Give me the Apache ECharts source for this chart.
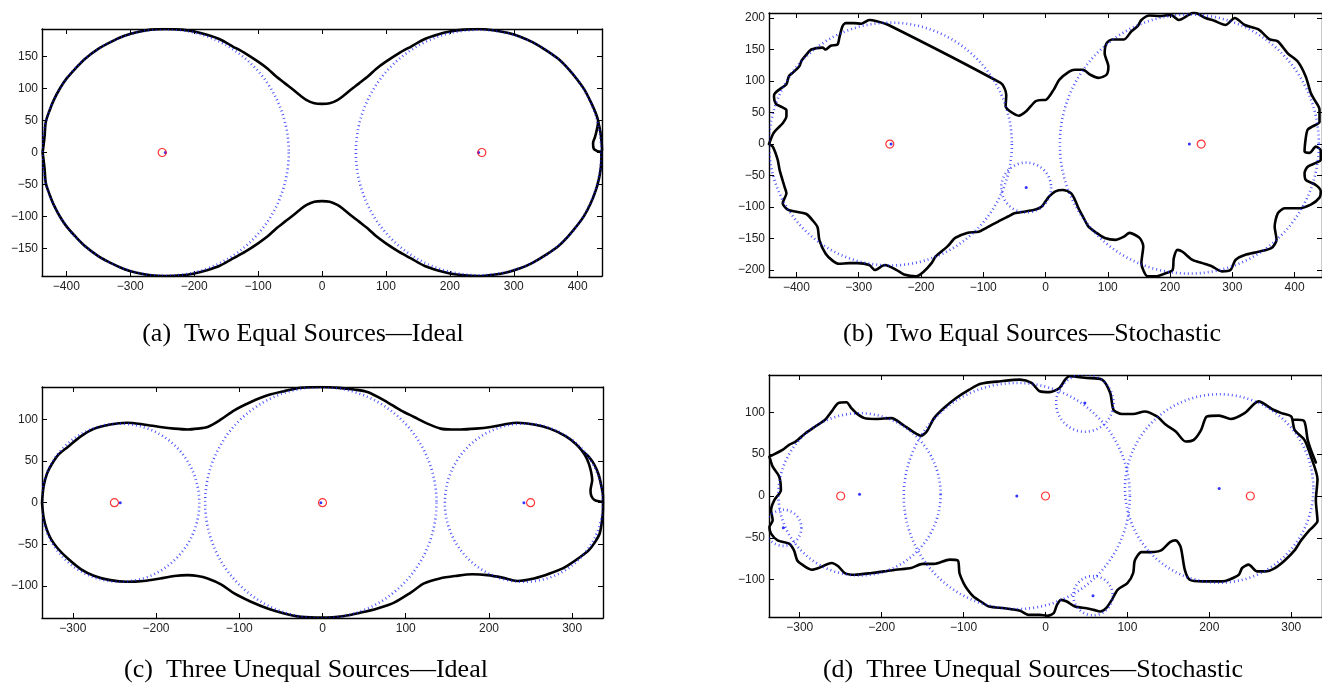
<!DOCTYPE html>
<html>
<head>
<meta charset="utf-8">
<script src="https://cdn.jsdelivr.net/npm/echarts@6/dist/echarts.min.js"></script>
<style>html,body{margin:0;padding:0;background:#fff}#c{width:1322px;height:684px}</style>
</head>
<body>
<div id="c"></div>
<script>
// ---------- tick labels ----------
const aTicksX = [-400,-300,-200,-100,0,100,200,300,400];
const aTicksY = [-150,-100,-50,0,50,100,150];
const bTicksX = [-400,-300,-200,-100,0,100,200,300,400];
const bTicksY = [-200,-150,-100,-50,0,50,100,150,200];
const cTicksX = [-300,-200,-100,0,100,200,300];
const cTicksY = [-100,-50,0,50,100];
const dTicksX = [-300,-200,-100,0,100,200,300];
const dTicksY = [-100,-50,0,50,100];

// ---------- captions ----------
const captions = [
  '(a)  Two Equal Sources\u2014Ideal',
  '(b)  Two Equal Sources\u2014Stochastic',
  '(c)  Three Unequal Sources\u2014Ideal',
  '(d)  Three Unequal Sources\u2014Stochastic'
];

// ---------- (a) ----------
const aSources = [[-250,0],[250,0]];
const aCenters = [[-245,0],[245,0]];
const aCircles = [[-245,0,193],[245,0,192]];
const aContour = [[-437,0],[-434,25],[-432,48],[-426,66],[-420,81],[-410,100],[-400,115],[-385,132],[-370,147],[-350,162],[-330,173],[-310,182],[-290,188],[-268,192],[-245,193],[-220,192],[-200,189],[-180,184],[-160,177],[-140,166],[-120,155],[-100,142],[-85,131],[-72,119],[-58,108],[-45,98],[-34,89],[-24,82],[-12,77],[0,76],[12,77],[24,82],[34,89],[45,98],[58,108],[72,119],[85,131],[100,142],[120,155],[140,166],[160,177],[180,184],[200,189],[222,192],[245,193],[268,191],[290,187],[310,181],[330,172],[350,160],[370,146],[385,131],[400,113],[410,99],[420,80],[428,62],[432,48],[430,36],[427,24],[424,15],[425,6],[431,2],[437,0],[437,-10],[436,-25],[433,-42],[428,-60],[420,-80],[410,-99],[400,-113],[385,-131],[370,-146],[350,-160],[330,-172],[310,-181],[290,-187],[268,-191],[245,-193],[222,-192],[200,-189],[180,-184],[160,-177],[140,-166],[120,-155],[100,-142],[85,-131],[72,-119],[58,-108],[45,-98],[34,-89],[24,-82],[12,-77],[0,-76],[-12,-77],[-24,-82],[-34,-89],[-45,-98],[-58,-108],[-72,-119],[-85,-131],[-100,-142],[-120,-155],[-140,-166],[-160,-177],[-180,-184],[-200,-189],[-220,-192],[-245,-193],[-268,-192],[-290,-188],[-310,-182],[-330,-173],[-350,-162],[-370,-147],[-385,-132],[-400,-115],[-410,-100],[-420,-81],[-426,-66],[-432,-48],[-434,-25],[-437,0]];
const aContourOuter = [[432,48],[435,35],[437,20],[438,5],[437,0]];

// ---------- (b) ----------
const bSources = [[-250,0],[250,0]];
const bCenters = [[-248,0],[231,0],[-31,-69]];
const bCircles = [[-249,0,195],[231,0,208],[-31,-69,40]];
const bContour = [[-444,0],[-437,17],[-430,25],[-422,33],[-416,44],[-416,54],[-424,59],[-433,64],[-436,75],[-435,80],[-427,87],[-416,95],[-412,108],[-406,113],[-395,124],[-392,132],[-384,142],[-376,150],[-358,153],[-353,150],[-345,156],[-334,158],[-331,169],[-326,187],[-321,192],[-308,192],[-296,191],[-283,197],[-271,195],[-252,189],[-72,97],[-66,89],[-63,78],[-64,60],[-57,52],[-43,45],[-31,52],[-16,68],[-6,70],[0,70],[13,86],[22,102],[38,115],[47,118],[60,118],[72,110],[85,105],[98,110],[101,123],[95,144],[98,160],[107,166],[126,166],[138,179],[148,187],[154,197],[167,204],[183,203],[201,205],[214,197],[230,205],[238,209],[257,200],[270,196],[289,189],[304,200],[320,189],[342,182],[360,166],[373,163],[389,144],[405,131],[418,107],[426,81],[432,70],[440,55],[440,35],[429,28],[421,23],[418,10],[416,-12],[424,-14],[434,-4],[442,-10],[442,-25],[434,-30],[421,-36],[416,-46],[418,-57],[434,-65],[442,-75],[440,-85],[426,-96],[405,-102],[384,-102],[373,-110],[368,-131],[371,-152],[363,-165],[342,-171],[320,-176],[305,-184],[297,-200],[283,-202],[267,-194],[252,-189],[236,-184],[220,-171],[212,-168],[206,-181],[204,-200],[193,-205],[177,-210],[164,-210],[154,-189],[157,-162],[151,-149],[135,-141],[126,-147],[113,-152],[95,-149],[82,-141],[69,-131],[60,-115],[54,-104],[47,-88],[41,-78],[28,-73],[16,-75],[6,-83],[0,-91],[-6,-99],[-16,-104],[-32,-107],[-50,-110],[-60,-115],[-76,-123],[-95,-133],[-107,-139],[-126,-141],[-145,-149],[-157,-162],[-176,-178],[-183,-189],[-195,-202],[-208,-210],[-227,-207],[-239,-200],[-258,-192],[-274,-200],[-283,-192],[-302,-189],[-315,-189],[-332,-190],[-342,-185],[-353,-174],[-363,-153],[-366,-132],[-374,-121],[-384,-111],[-398,-108],[-414,-104],[-422,-94],[-416,-78],[-419,-68],[-427,-41],[-430,-25],[-438,-4],[-444,0]];

// ---------- (c) ----------
const cSources = [[-250,0],[0,0],[250,0]];
const cCenters = [[-243,0],[-2,0],[242,0]];
const cCircles = [[-243,0,95],[-2,0,139],[242,0,95]];
const cContour = [[-337,0],[-335,20],[-331,35],[-326,45],[-318,57],[-306,67],[-290,80],[-274,89],[-255,94],[-235,96],[-215,94],[-195,91],[-178,89],[-162,88],[-150,89],[-138,91],[-122,100],[-106,111],[-86,121],[-66,129],[-46,134],[-26,138],[-2,139],[20,138],[38,136],[54,133],[74,123],[94,111],[110,103],[126,95],[142,89],[155,88],[166,88],[184,89],[202,91],[218,94],[234,96],[254,94],[273,89],[292,80],[305,70],[312,62],[318,52],[322,40],[324,27],[322,15],[323,8],[327,3],[337,0],[337,-8],[336,-20],[333,-37],[327,-48],[320,-57],[310,-65],[292,-77],[273,-85],[254,-91],[234,-94],[216,-90],[198,-87],[180,-86],[160,-88],[141,-91],[122,-97],[106,-108],[86,-120],[66,-127],[46,-132],[26,-136],[0,-138],[-26,-137],[-46,-133],[-66,-127],[-86,-119],[-106,-109],[-122,-98],[-138,-91],[-150,-88],[-162,-87],[-178,-88],[-195,-91],[-215,-94],[-235,-95],[-255,-93],[-274,-88],[-290,-80],[-306,-67],[-318,-55],[-326,-44],[-331,-33],[-335,-18],[-337,0]];
const cContourOuter = [[312,62],[320,55],[327,45],[332,33],[335,20],[337,8],[337,0]];

// ---------- (d) ----------
const dSources = [[-250,0],[0,0],[250,0]];
const dCenters = [[-227,2],[-35,0],[212,9],[48,111],[58,-119],[-320,-38]];
const dCircles = [[-227,2,99],[-35,0,138],[212,9,115],[48,111,35],[58,-119,24],[-320,-38,22]];
const dContour = [[-337,47],[-321,55],[-313,61],[-305,65],[-293,75],[-281,83],[-269,91],[-261,101],[-253,111],[-243,112],[-237,105],[-231,99],[-221,93],[-207,92],[-188,93],[-174,85],[-162,77],[-152,72],[-145,77],[-136,93],[-124,105],[-109,117],[-93,127],[-79,134],[-55,137],[-31,139],[-17,135],[-7,125],[5,124],[17,129],[24,139],[29,143],[50,141],[69,139],[79,123],[83,103],[93,98],[107,98],[121,101],[136,95],[147,85],[159,77],[171,65],[181,67],[190,79],[197,95],[212,96],[226,92],[243,99],[260,113],[278,103],[288,99],[300,95],[304,79],[316,67],[324,47],[332,20],[330,-5],[332,-30],[322,-41],[312,-53],[304,-65],[292,-77],[280,-86],[268,-90],[258,-90],[248,-82],[240,-86],[236,-94],[224,-100],[216,-102],[192,-102],[176,-100],[170,-88],[165,-61],[159,-53],[152,-55],[141,-65],[128,-67],[117,-67],[109,-77],[107,-92],[100,-104],[88,-112],[81,-124],[74,-134],[67,-138],[59,-136],[50,-134],[36,-132],[26,-126],[19,-124],[14,-130],[10,-140],[2,-143],[-7,-142],[-21,-142],[-31,-137],[-50,-134],[-69,-132],[-79,-126],[-88,-120],[-95,-112],[-100,-104],[-105,-92],[-107,-77],[-117,-76],[-136,-81],[-150,-81],[-164,-86],[-183,-88],[-197,-90],[-212,-92],[-233,-94],[-245,-92],[-253,-84],[-261,-80],[-277,-86],[-285,-88],[-297,-82],[-303,-77],[-307,-65],[-313,-57],[-327,-53],[-335,-45],[-337,-37],[-333,-29],[-335,-17],[-331,-5],[-323,7],[-325,23],[-333,35],[-337,47]];
const dContourOuter = [[302,91],[308,91],[316,89],[320,67],[324,55],[330,40]];

// ---------- build ----------
const panels = [
  {grid:{left:42,top:29,width:560,height:247}, xr:[-438,438], yr:[-193,193], xt:aTicksX, yt:aTicksY,
   src:aSources, cen:aCenters, circ:aCircles, lines:[aContour,aContourOuter], smooth:0.3, cap:[303,334]},
  {grid:{left:769,top:13,width:559,height:264}, xr:[-444,444], yr:[-211,208], xt:bTicksX, yt:bTicksY,
   src:bSources, cen:bCenters, circ:bCircles, lines:[bContour], smooth:0.25, cap:[1032,334]},
  {grid:{left:42,top:387,width:561,height:231}, xr:[-337,337], yr:[-138.5,139], xt:cTicksX, yt:cTicksY,
   src:cSources, cen:cCenters, circ:cCircles, lines:[cContour,cContourOuter], smooth:0.3, cap:[306,670]},
  {grid:{left:769,top:375,width:562,height:242}, xr:[-337.5,337.5], yr:[-144.5,144.5], xt:dTicksX, yt:dTicksY,
   src:dSources, cen:dCenters, circ:dCircles, lines:[dContour,dContourOuter], smooth:0.25, cap:[1033,670]}
];

const fmt = v => String(v).replace('-', '\u2212');
const labelStyle = {color:'#222', fontSize:12, fontFamily:'"Liberation Sans", Arial, sans-serif'};
const lineAx = {show:true, onZero:false, lineStyle:{color:'#000', width:1.4}};

const grid=[], xAxis=[], yAxis=[], series=[], graphic=[];
panels.forEach((p,i)=>{
  grid.push(Object.assign({containLabel:false}, p.grid));
  const tickBase = {show:true, inside:true, length:5, lineStyle:{color:'#000', width:1}};
  xAxis.push({type:'value', gridIndex:i, position:'bottom', min:p.xr[0], max:p.xr[1],
    axisLine:lineAx, splitLine:{show:false},
    axisTick:Object.assign({customValues:p.xt}, tickBase),
    axisLabel:Object.assign({customValues:p.xt, formatter:fmt, margin:5}, labelStyle)});
  xAxis.push({type:'value', gridIndex:i, position:'top', min:p.xr[0], max:p.xr[1],
    axisLine:lineAx, splitLine:{show:false},
    axisTick:Object.assign({customValues:p.xt}, tickBase),
    axisLabel:{show:false}});
  yAxis.push({type:'value', gridIndex:i, position:'left', min:p.yr[0], max:p.yr[1],
    axisLine:lineAx, splitLine:{show:false},
    axisTick:Object.assign({customValues:p.yt}, tickBase),
    axisLabel:Object.assign({customValues:p.yt, formatter:fmt, margin:4}, labelStyle)});
  yAxis.push({type:'value', gridIndex:i, position:'right', min:p.yr[0], max:p.yr[1],
    axisLine:lineAx, splitLine:{show:false},
    axisTick:Object.assign({customValues:p.yt}, tickBase),
    axisLabel:{show:false}});
  const xi = 2*i, yi = 2*i;
  p.lines.forEach(L=>{
    series.push({type:'line', xAxisIndex:xi, yAxisIndex:yi, data:L, showSymbol:false, symbol:'none',
      smooth:p.smooth, clip:true, silent:true, z:2,
      lineStyle:{color:'#000', width:2.6, join:'round', cap:'round'}});
  });
  series.push({type:'custom', xAxisIndex:xi, yAxisIndex:yi, data:p.circ, clip:true, silent:true, z:3,
    encode:{x:0, y:1},
    renderItem:(params, api)=>{
      const c = api.coord([api.value(0), api.value(1)]);
      const r = api.size([api.value(2), 0])[0];
      return {type:'circle', shape:{cx:c[0], cy:c[1], r:r},
        style:{fill:'none', stroke:'rgba(20,30,255,0.8)', lineWidth:2.6, lineDash:[0.9,3.1]}};
    }});
  series.push({type:'scatter', xAxisIndex:xi, yAxisIndex:yi, data:p.cen, symbol:'circle', symbolSize:3,
    silent:true, z:4, itemStyle:{color:'#0000ff'}});
  series.push({type:'scatter', xAxisIndex:xi, yAxisIndex:yi, data:p.src, symbol:'circle', symbolSize:8,
    silent:true, z:5, itemStyle:{color:'rgba(0,0,0,0)', borderColor:'#ff0000', borderWidth:1.2}});
  graphic.push({type:'text', x:p.cap[0], y:p.cap[1], silent:true,
    style:{text:captions[i], fill:'#000', font:'26px "Liberation Serif", "Times New Roman", serif',
      textAlign:'center', textVerticalAlign:'middle'}});
});

const chart = echarts.init(document.getElementById('c'), null, {renderer:'canvas'});
chart.setOption({animation:false, backgroundColor:'#fff', grid, xAxis, yAxis, series, graphic});
</script>
</body>
</html>
